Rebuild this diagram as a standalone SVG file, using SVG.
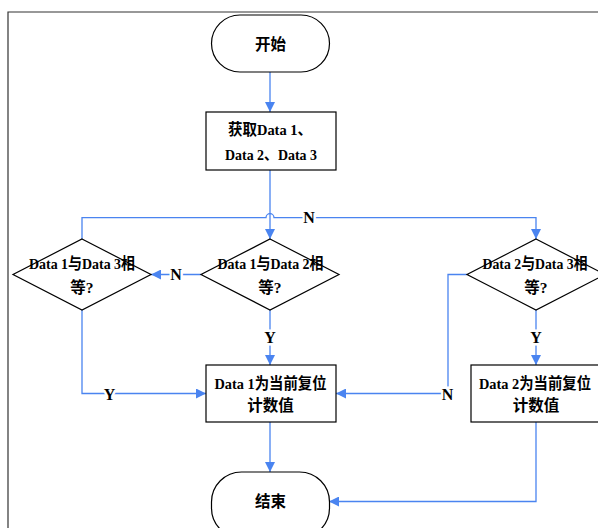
<svg xmlns="http://www.w3.org/2000/svg" width="598" height="528" viewBox="0 0 598 528">
<defs>
<marker id="ah" viewBox="0 0 10 10" refX="10" refY="5" markerWidth="10" markerHeight="10" markerUnits="userSpaceOnUse" orient="auto">
<path d="M0,0 L10,5 L0,10 Z" fill="#4a84f0"/>
</marker>
<style>
.shape{fill:#fff;stroke:#000;stroke-width:1.2}
.t{font-family:"Liberation Serif","Noto Sans CJK SC",serif;font-weight:bold;font-size:15.5px;text-anchor:middle;fill:#000}
.c{fill:none;stroke:#4a84f0;stroke-width:1.3}
.lbl{font-family:"Liberation Serif",serif;font-weight:bold;font-size:16px;text-anchor:middle;fill:#000;stroke:#fff;stroke-width:5;paint-order:stroke}
</style>
</defs>
<rect width="598" height="528" fill="#fff"/>
<path d="M8,528 V12 H598" fill="none" stroke="#333" stroke-width="1.2"/>
<g id="connectors">
<path class="c" d="M270,72 V112" marker-end="url(#ah)"/>
<path class="c" d="M270,170 V239" marker-end="url(#ah)"/>
<path class="c" d="M82,239 V217.7 H266 A4,4 0 0 1 274,217.7 H536 V239" marker-end="url(#ah)"/>
<path class="c" d="M201,274.5 H151" marker-end="url(#ah)"/>
<path class="c" d="M270,310 V365" marker-end="url(#ah)"/>
<path class="c" d="M82,310 V393.5 H206" marker-end="url(#ah)"/>
<path class="c" d="M467,274.5 H448 V393.5 H336" marker-end="url(#ah)"/>
<path class="c" d="M536,310 V365" marker-end="url(#ah)"/>
<path class="c" d="M270,422 V472" marker-end="url(#ah)"/>
<path class="c" d="M536,422 V501.5 H329" marker-end="url(#ah)"/>
<text class="lbl" x="309" y="222.5">N</text>
<text class="lbl" x="176" y="280">N</text>
<text class="lbl" x="270" y="342.5">Y</text>
<text class="lbl" x="536" y="342.5">Y</text>
<text class="lbl" x="109.5" y="399.5">Y</text>
<text class="lbl" x="447.5" y="399.5">N</text>
</g>
<g id="start">
<rect class="shape" x="211.5" y="15" width="118" height="57" rx="28.5"/>
<text class="t" x="270.5" y="49.5">开始</text>
</g>
<g id="get">
<rect class="shape" x="206" y="112" width="130" height="58"/>
<text class="t" x="270" y="135" textLength="84" lengthAdjust="spacingAndGlyphs">获取Data 1、</text>
<text class="t" x="271" y="160" textLength="92" lengthAdjust="spacingAndGlyphs">Data 2、Data 3</text>
</g>
<g id="d12">
<path class="shape" d="M270,239 L339,274.5 L270,310 L201,274.5 Z"/>
<text class="t" x="270.5" y="269" textLength="106" lengthAdjust="spacingAndGlyphs">Data 1与Data 2相</text>
<text class="t" x="270" y="292.5">等?</text>
</g>
<g id="d13">
<path class="shape" d="M82,239 L151,274.5 L82,310 L13,274.5 Z"/>
<text class="t" x="82" y="269" textLength="106" lengthAdjust="spacingAndGlyphs">Data 1与Data 3相</text>
<text class="t" x="82" y="292.5">等?</text>
</g>
<g id="d23">
<path class="shape" d="M536,239 L605,274.5 L536,310 L467,274.5 Z"/>
<text class="t" x="535" y="269" textLength="105" lengthAdjust="spacingAndGlyphs">Data 2与Data 3相</text>
<text class="t" x="536" y="292.5">等?</text>
</g>
<g id="r1">
<rect class="shape" x="206" y="365" width="130" height="57"/>
<text class="t" x="270.5" y="388.5" textLength="112" lengthAdjust="spacingAndGlyphs">Data 1为当前复位</text>
<text class="t" x="270.5" y="411">计数值</text>
</g>
<g id="r2">
<rect class="shape" x="471" y="365" width="130" height="57"/>
<text class="t" x="535" y="388.5" textLength="112" lengthAdjust="spacingAndGlyphs">Data 2为当前复位</text>
<text class="t" x="536" y="411">计数值</text>
</g>
<g id="end">
<rect class="shape" x="211.5" y="472" width="118" height="66" rx="30"/>
<text class="t" x="270.5" y="507">结束</text>
</g>
</svg>
